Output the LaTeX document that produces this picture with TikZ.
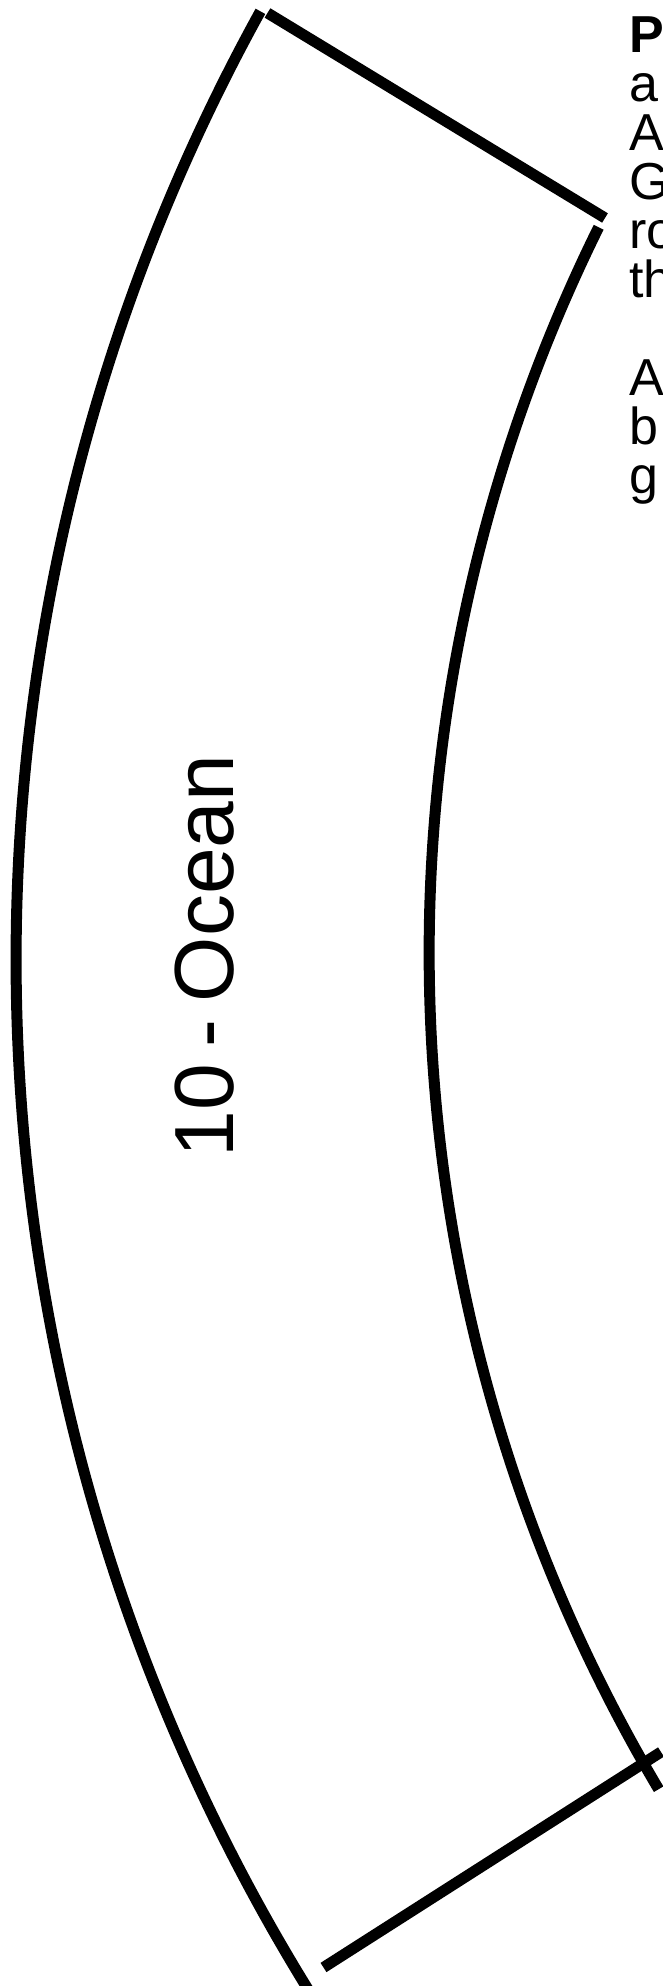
\documentclass[tikz,border=0pt]{standalone}
\usepackage{fontspec}
\setmainfont{Liberation Sans}
\usepackage{tikz}
\usetikzlibrary{positioning}
\definecolor{ringblack}{HTML}{000000}

\begin{document}
\begin{tikzpicture}[x=0.5pt, y=0.5pt,
    ringedge/.style={draw=ringblack, line width=5.5pt, line cap=butt},
    sidefont/.style={font=\fontsize{26}{24.5}\selectfont, align=left, inner sep=0pt}]
  %% Canvas (663 x 1986 px), everything past the edges is cut
  \useasboundingbox (0,0) rectangle (663,1986);
  \clip (0,0) rectangle (663,1986);

  %% Ring centres (far to the right)
  \coordinate (outerc) at (1978,1026.5);
  \coordinate (innerc) at (2067,1033);

  %% Outer and inner arcs
  \draw[ringedge] ([shift={(151.1:1962)}]outerc) arc (151.1:213:1962);
  \draw[ringedge] ([shift={(153.7:1638)}]innerc) arc (153.7:210.7:1638);

  %% Radial edges
  \coordinate (topa) at (267.5,1973);
  \coordinate (topb) at (605,1768);
  \coordinate (bota) at (323.5,18.5);
  \coordinate (botb) at (661,234);
  \draw[ringedge] (topa) -- (topb);
  \draw[ringedge] (bota) -- (botb);

  %% Sector label
  \node[font=\fontsize{42}{50}\selectfont, rotate=90, anchor=base, inner sep=0pt]
    (oceanlabel) at (233,1030) {\spaceskip=0.2em\relax 10 - Ocean};

  %% Side text
  \node[sidefont, anchor=north west] (sidetext) at (629,1970)
    {\textbf{P}\\a\\A\\G\\ro\\th\\[24.5pt]A\\b\\g};
\end{tikzpicture}
\end{document}
